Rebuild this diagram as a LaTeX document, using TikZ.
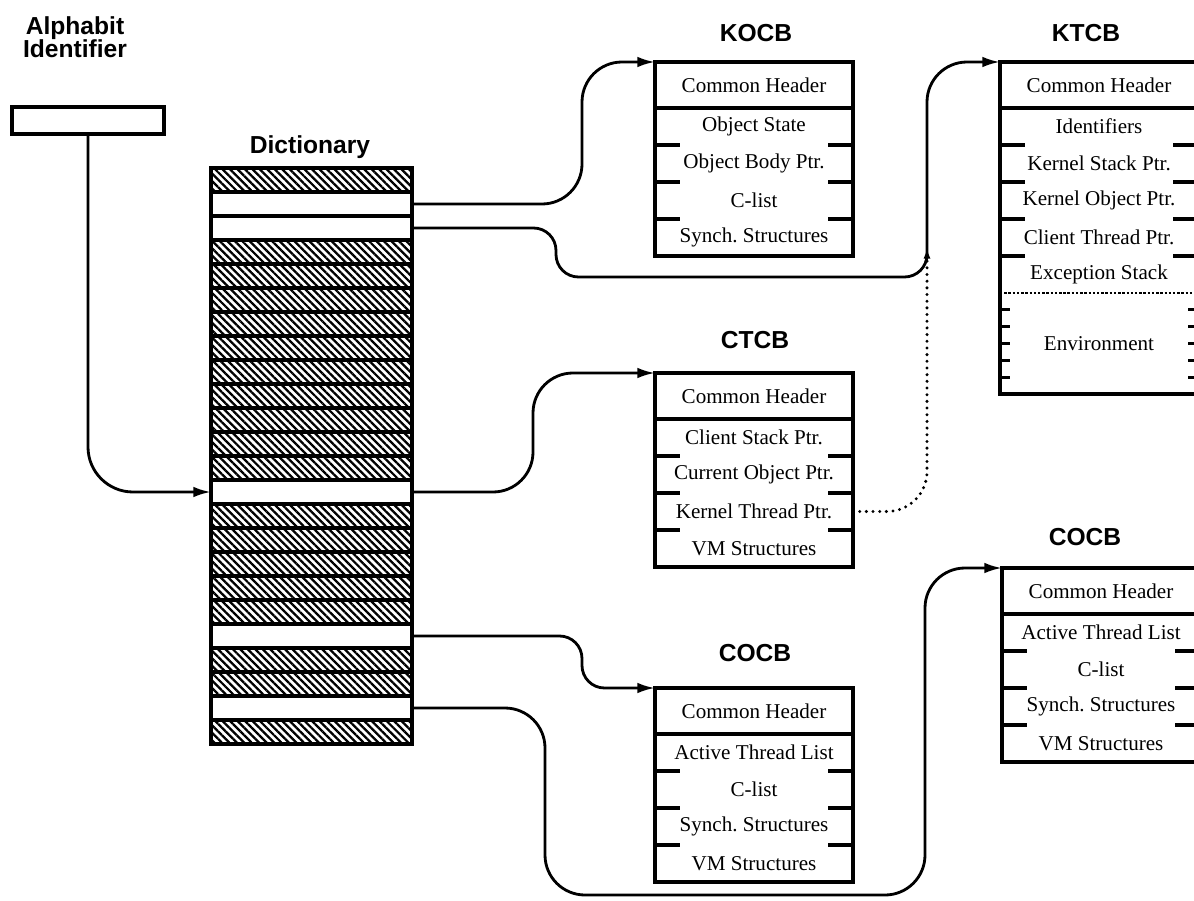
\documentclass[tikz,border=0pt]{standalone}
\usepackage{fontspec}
\setmainfont{Liberation Serif}
\newfontfamily\headfont{Liberation Sans}
\usetikzlibrary{arrows.meta, positioning, patterns.meta, fit}

\begin{document}
\begin{tikzpicture}[
	title/.style={font=\headfont\bfseries\fontsize{14}{16}\selectfont},
	slot/.style={shape=rectangle, draw, line width=2.2pt, minimum width=4.02cm, minimum height=0.48cm, inner sep=0pt, outer sep=0pt},
	hatch/.style={slot, pattern={Lines[angle=-45, distance=3pt, line width=1.3pt]}},
	head/.style={shape=rectangle, minimum width=3.96cm, minimum height=0.92cm, inner sep=0pt, outer sep=0pt, font=\fontsize{12}{14}\selectfont},
	field/.style={head, minimum height=0.74cm},
	frame/.style={shape=rectangle, draw, line width=1.8pt, inner sep=0pt, outer sep=0pt},
	tick/.style={line width=1.8pt},
	link/.style={line width=1.6pt, -{Latex[length=10pt, width=6pt]}},
	ptr/.style={line width=1.9pt, line cap=round, dash pattern=on 0pt off 3.8pt, -{Latex[length=6pt, width=4pt]}}
]
	\useasboundingbox (0,0) rectangle (23.88,-18.02);
	\clip (0,0) rectangle (23.88,-18.02);

	% Titles:
	\node[title] (alpha) at (1.5,-0.56) {Alphabit};
	\node[title] (ident-title) at (1.5,-0.98) {Identifier};
	\node[title] (dict-title) at (6.20,-2.94) {Dictionary};
	\node[title] (kocb-title) at (15.12,-0.66) {KOCB};
	\node[title] (ktcb-title) at (21.72,-0.66) {KTCB};
	\node[title] (ctcb-title) at (15.10,-6.80) {CTCB};
	\node[title] (cocb-title) at (15.10,-13.06) {COCB};
	\node[title] (cocbr-title) at (21.70,-10.74) {COCB};

	% Identifier slot:
	\node[frame, minimum width=3.04cm, minimum height=0.54cm] (ident) at (1.76,-2.41) {};

	% Dictionary rows:
	\node[hatch] (d1) at (6.23,-3.60) {};
	\node[slot] (d2) at (6.23,-4.08) {};
	\node[slot] (d3) at (6.23,-4.56) {};
	\node[hatch] (d4) at (6.23,-5.04) {};
	\node[hatch] (d5) at (6.23,-5.52) {};
	\node[hatch] (d6) at (6.23,-6.00) {};
	\node[hatch] (d7) at (6.23,-6.48) {};
	\node[hatch] (d8) at (6.23,-6.96) {};
	\node[hatch] (d9) at (6.23,-7.44) {};
	\node[hatch] (d10) at (6.23,-7.92) {};
	\node[hatch] (d11) at (6.23,-8.40) {};
	\node[hatch] (d12) at (6.23,-8.88) {};
	\node[hatch] (d13) at (6.23,-9.36) {};
	\node[slot] (d14) at (6.23,-9.84) {};
	\node[hatch] (d15) at (6.23,-10.32) {};
	\node[hatch] (d16) at (6.23,-10.80) {};
	\node[hatch] (d17) at (6.23,-11.28) {};
	\node[hatch] (d18) at (6.23,-11.76) {};
	\node[hatch] (d19) at (6.23,-12.24) {};
	\node[slot] (d20) at (6.23,-12.72) {};
	\node[hatch] (d21) at (6.23,-13.20) {};
	\node[hatch] (d22) at (6.23,-13.68) {};
	\node[slot] (d23) at (6.23,-14.16) {};
	\node[hatch] (d24) at (6.23,-14.64) {};

	% KOCB:
	\node[head] (ko0) at (15.08,-1.70) {Common Header};
	\node[field, below=0pt of ko0] (ko1) {Object State};
	\node[field, below=0pt of ko1] (ko2) {Object Body Ptr.};
	\node[field, below=0pt of ko2] (ko3) {C-list};
	\node[field, below=0pt of ko3] (ko4) {Synch.\ Structures};
	\node[frame, fit=(ko0)(ko4)] (kocb) {};
	\draw[tick] (ko0.south west) -- (ko0.south east);
	\draw[tick] (ko1.south west) -- ++(0.5,0) (ko1.south east) -- ++(-0.5,0);
	\draw[tick] (ko2.south west) -- ++(0.5,0) (ko2.south east) -- ++(-0.5,0);
	\draw[tick] (ko3.south west) -- ++(0.5,0) (ko3.south east) -- ++(-0.5,0);

	% KTCB:
	\node[head] (kt0) at (21.98,-1.70) {Common Header};
	\node[field, below=0pt of kt0] (kt1) {Identifiers};
	\node[field, below=0pt of kt1] (kt2) {Kernel Stack Ptr.};
	\node[field, below=0pt of kt2] (kt3) {Kernel Object Ptr.};
	\node[field, below=0pt of kt3] (kt4) {Client Thread Ptr.};
	\node[field, below=0pt of kt4] (kt5) {Exception Stack};
	\node[field, minimum height=2.02cm, below=0pt of kt5] (kt6) {Environment};
	\node[frame, fit=(kt0)(kt6)] (ktcb) {};
	\draw[tick] (kt0.south west) -- (kt0.south east);
	\draw[tick] (kt1.south west) -- ++(0.5,0) (kt1.south east) -- ++(-0.5,0);
	\draw[tick] (kt2.south west) -- ++(0.5,0) (kt2.south east) -- ++(-0.5,0);
	\draw[tick] (kt3.south west) -- ++(0.5,0) (kt3.south east) -- ++(-0.5,0);
	\draw[tick] (kt4.south west) -- ++(0.5,0) (kt4.south east) -- ++(-0.5,0);
	\draw[line width=1.4pt, densely dotted] (kt5.south west) -- (kt5.south east);
	\foreach \dy in {-0.68,-0.34,0,0.34,0.68}
		\draw[tick] ([yshift=\dy cm]kt6.west) -- ++(0.2,0) ([yshift=\dy cm]kt6.east) -- ++(-0.2,0);

	% CTCB:
	\node[head] (ct0) at (15.08,-7.92) {Common Header};
	\node[field, below=0pt of ct0] (ct1) {Client Stack Ptr.};
	\node[field, below=0pt of ct1] (ct2) {Current Object Ptr.};
	\node[field, below=0pt of ct2] (ct3) {Kernel Thread Ptr.};
	\node[field, below=0pt of ct3] (ct4) {VM Structures};
	\node[frame, fit=(ct0)(ct4)] (ctcb) {};
	\draw[tick] (ct0.south west) -- (ct0.south east);
	\draw[tick] (ct1.south west) -- ++(0.5,0) (ct1.south east) -- ++(-0.5,0);
	\draw[tick] (ct2.south west) -- ++(0.5,0) (ct2.south east) -- ++(-0.5,0);
	\draw[tick] (ct3.south west) -- ++(0.5,0) (ct3.south east) -- ++(-0.5,0);

	% COCB (middle):
	\node[head] (co0) at (15.08,-14.22) {Common Header};
	\node[field, below=0pt of co0] (co1) {Active Thread List};
	\node[field, below=0pt of co1] (co2) {C-list};
	\node[field, below=0pt of co2] (co3) {Synch.\ Structures};
	\node[field, below=0pt of co3] (co4) {VM Structures};
	\node[frame, fit=(co0)(co4)] (cocb) {};
	\draw[tick] (co0.south west) -- (co0.south east);
	\draw[tick] (co1.south west) -- ++(0.5,0) (co1.south east) -- ++(-0.5,0);
	\draw[tick] (co2.south west) -- ++(0.5,0) (co2.south east) -- ++(-0.5,0);
	\draw[tick] (co3.south west) -- ++(0.5,0) (co3.south east) -- ++(-0.5,0);

	% COCB (right):
	\node[head] (cr0) at (22.02,-11.82) {Common Header};
	\node[field, below=0pt of cr0] (cr1) {Active Thread List};
	\node[field, below=0pt of cr1] (cr2) {C-list};
	\node[field, below=0pt of cr2] (cr3) {Synch.\ Structures};
	\node[field, below=0pt of cr3] (cr4) {VM Structures};
	\node[frame, fit=(cr0)(cr4)] (cocbr) {};
	\draw[tick] (cr0.south west) -- (cr0.south east);
	\draw[tick] (cr1.south west) -- ++(0.5,0) (cr1.south east) -- ++(-0.5,0);
	\draw[tick] (cr2.south west) -- ++(0.5,0) (cr2.south east) -- ++(-0.5,0);
	\draw[tick] (cr3.south west) -- ++(0.5,0) (cr3.south east) -- ++(-0.5,0);

	% Links:
	\coordinate (ktbend) at (18.54,-5.54);
	\coordinate (lowbend) at (18.50,-17.90);
	\coordinate (dotend) at (18.54,-4.96);
	\draw[link, rounded corners=0.9cm] (ident.south) |- (d14.west);
	\draw[link, rounded corners=0.8cm] (d2.east) -- ++(3.4,0) |- (kocb.north west);
	\draw[link, rounded corners=0.45cm] (d3.east) -- ++(2.88,0) |- (ktbend) [rounded corners=0.8cm] |- (ktcb.north west);
	\draw[link, rounded corners=0.8cm] (d14.east) -- ++(2.42,0) |- (ctcb.north west);
	\draw[link, rounded corners=0.45cm] (d20.east) -- ++(3.4,0) |- (cocb.north west);
	\draw[link, rounded corners=0.8cm] (d23.east) -- ++(2.66,0) |- (lowbend) |- (cocbr.north west);
	\draw[ptr, rounded corners=0.8cm] (ct3.east) -| (dotend);
\end{tikzpicture}
\end{document}
